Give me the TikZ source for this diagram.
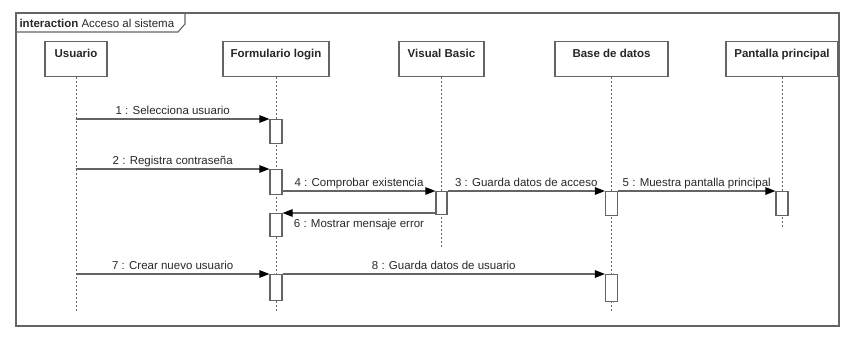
\documentclass[tikz,border=0pt]{standalone}
\usepackage{fontspec}
\setmainfont{Liberation Sans}
\usepackage{tikz}
\usetikzlibrary{positioning,arrows.meta}
\definecolor{linegray}{RGB}{100,100,100}
\definecolor{textgray}{RGB}{40,40,40}

\begin{document}
\begin{tikzpicture}[x=1pt,y=-1pt,line width=1.1pt,font=\fontsize{11.5pt}{13pt}\selectfont,
  head/.style={draw=linegray,fill=white,anchor=north,font=\fontsize{11.5pt}{13pt}\selectfont\bfseries,text=textgray,inner xsep=0pt,inner ysep=0pt,text height=16pt,text depth=19pt},
  life/.style={linegray,line width=0.9pt,dash pattern=on 2pt off 2pt},
  act/.style={draw=linegray,fill=white,anchor=north,minimum width=12pt,inner sep=0pt},
  msg/.style={linegray,-{Triangle[length=10pt,width=7.5pt,color=black]}},
  over/.style={anchor=base,yshift=5pt,inner sep=0pt,text=textgray},
  under/.style={anchor=base,yshift=-14pt,inner sep=0pt,text=textgray}]
\useasboundingbox (0,0) rectangle (868,349);

% frame
\draw[linegray] (16,13) rectangle (839,326);
\draw[linegray] (16,32) -- (178,32) -- (185,24) -- (185,13);
\node[anchor=base west,inner sep=0pt,text=textgray] (title) at (19,27) {\textbf{interaction} Acceso al sistema};

% heads and lifelines
\node[head,minimum width=62pt] (usuario) at (76,41) {Usuario};
\node[head,minimum width=106pt] (login) at (276,41) {Formulario login};
\node[head,minimum width=85pt] (vbasic) at (441.5,41) {Visual Basic};
\node[head,minimum width=113pt] (basedatos) at (611.5,41) {Base de datos};
\node[head,minimum width=112pt] (pantalla) at (782,41) {Pantalla principal};

\coordinate (usuarioEnd) at (76,313);
\coordinate (loginEnd) at (276,313);
\coordinate (vbasicEnd) at (441.5,248);
\coordinate (basedatosEnd) at (611.5,312);
\coordinate (pantallaEnd) at (782,227);

\draw[life] (usuario.south) -- (usuarioEnd);
\draw[life] (login.south) -- (loginEnd);
\draw[life] (vbasic.south) -- (vbasicEnd);
\draw[life] (basedatos.south) -- (basedatosEnd);
\draw[life] (pantalla.south) -- (pantallaEnd);

% activations
\node[act,minimum height=24pt] (act1) at (276,119) {};
\node[act,minimum height=25pt] (act2) at (276,169) {};
\node[act,minimum height=23pt,minimum width=11pt] (act4) at (441.5,191) {};
\node[act,minimum height=24pt] (act3) at (611.5,191) {};
\node[act,minimum height=24pt] (act5) at (782,191) {};
\node[act,minimum height=23pt] (act6) at (276,213) {};
\node[act,minimum height=26pt] (act7) at (276,274) {};
\node[act,minimum height=27pt] (act8) at (611.5,274) {};

% messages
\draw[msg] (usuario.south |- act1.north west) -- node[over]{1 : Selecciona usuario} (act1.north west);
\draw[msg] (usuario.south |- act2.north west) -- node[over]{2 : Registra contraseña} (act2.north west);
\draw[msg] (act2.east |- act4.north west) -- node[over]{4 : Comprobar existencia} (act4.north west);
\draw[msg] (act4.north east) -- node[over]{3 : Guarda datos de acceso} (act3.north west);
\draw[msg] (act3.north east) -- node[over]{5 : Muestra pantalla principal} (act5.north west);
\draw[msg] (act4.west |- act6.north) -- node[under]{6 : Mostrar mensaje error} (act6.north east);
\draw[msg] (usuario.south |- act7.north west) -- node[over]{7 : Crear nuevo usuario} (act7.north west);
\draw[msg] (act7.north east) -- node[over]{8 : Guarda datos de usuario} (act8.north west);
\end{tikzpicture}
\end{document}
